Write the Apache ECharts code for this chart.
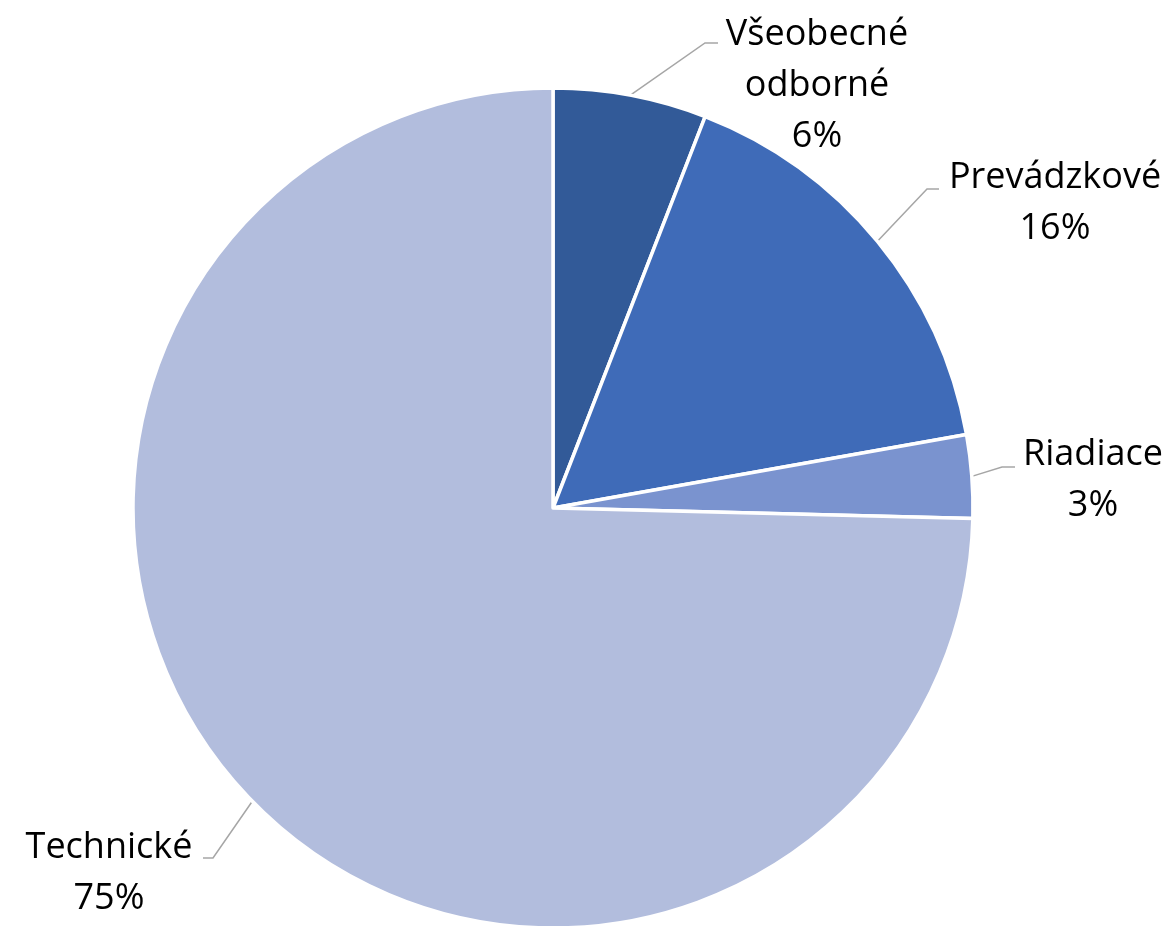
<!DOCTYPE html>
<html>
<head>
<meta charset="utf-8">
<style>
html,body{margin:0;padding:0;background:#fff;}
#chart{width:1173px;height:926px;}
</style>
<script src="https://cdn.jsdelivr.net/npm/echarts@6/dist/echarts.min.js"></script>
</head>
<body>
<div id="chart"></div>
<script>
const categories = ['Všeobecné\nodborné', 'Prevádzkové', 'Riadiace', 'Technické'];
const values = [5.9, 16.3, 3.2, 74.6];
const colors = ['#325A98', '#3F6BB8', '#7A93CF', '#B2BDDD'];

// label placement (label centre x, block middle y, leader bend, leader end)
const labelPlaces = [
  {x: 817, y: 86, bend: [705, 43], end: [718, 43]},
  {x: 1055, y: 203, bend: [927, 189], end: [939, 189]},
  {x: 1093, y: 480, bend: [1002, 467], end: [1015, 467]},
  {x: 109, y: 873, bend: [213, 858], end: [203, 858]}
];

const chart = echarts.init(document.getElementById('chart'), null, {renderer: 'canvas'});
chart.setOption({
  animation: false,
  backgroundColor: '#ffffff',
  series: [{
    type: 'pie',
    center: [553, 508],
    radius: 420,
    startAngle: 90,
    clockwise: true,
    data: categories.map((c, i) => ({name: c, value: values[i], itemStyle: {color: colors[i]}})),
    itemStyle: {borderColor: '#ffffff', borderWidth: 3.5},
    label: {
      show: true,
      position: 'outside',
      overflow: 'none',
      formatter: p => p.name + '\n' + Math.round(p.percent) + '%',
      fontFamily: '"Open Sans", Lato, sans-serif',
      fontSize: 36,
      lineHeight: 51,
      color: '#000000',
      align: 'center'
    },
    labelLine: {
      show: true,
      length: 40,
      length2: 12,
      lineStyle: {color: '#A6A6A6', width: 1.5}
    },
    labelLayout: function (params) {
      const lp = labelPlaces[params.dataIndex];
      const start = params.labelLinePoints ? params.labelLinePoints[0] : lp.bend;
      return {
        x: lp.x,
        y: lp.y,
        align: 'center',
        verticalAlign: 'middle',
        labelLinePoints: [start, lp.bend, lp.end]
      };
    },
    emphasis: {disabled: true}
  }]
});
</script>
</body>
</html>
